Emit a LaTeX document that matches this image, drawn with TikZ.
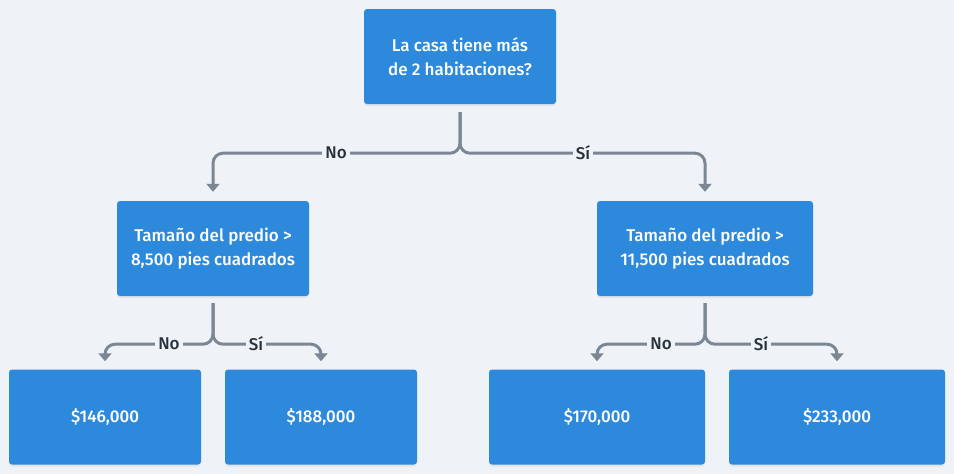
\documentclass[tikz,border=0pt]{standalone}
\usepackage{fontspec}
\setmainfont{Fira Sans}[UprightFont=* Medium, BoldFont=* SemiBold]
\usetikzlibrary{arrows.meta,shadows,calc}
\definecolor{bg}{HTML}{EFF3F7}
\definecolor{boxblue}{HTML}{2D89DB}
\definecolor{linegray}{HTML}{7B8794}
\definecolor{labeltext}{HTML}{27313B}
\begin{document}
\begin{tikzpicture}[x=1pt,y=-1pt,
  box/.style={fill=boxblue, rounded corners=3pt, text=white, align=center,
    font=\fontsize{17}{24.5}\selectfont, minimum height=95pt, inner sep=0pt,
    drop shadow={opacity=0.12, shadow xshift=0pt, shadow yshift=-2pt}},
  narrowbox/.style={box, minimum width=192pt},
  widebox/.style={box, minimum width=216pt},
  conn/.style={draw=linegray, line width=3pt, rounded corners=10pt,
    -{Triangle[width=13pt,length=8pt]}},
  lbl/.style={fill=bg, text=labeltext, font=\fontsize{17}{18}\selectfont, inner sep=3pt}]
\fill[bg] (0,0) rectangle (954,474);
\useasboundingbox (0,0) rectangle (954,474);

\node[narrowbox] (top) at (460,56.5) {La casa tiene más\\de 2 habitaciones?};
\node[narrowbox] (ml) at (213,248.5) {Tamaño del predio >\\8,500 pies cuadrados};
\node[widebox] (mr) at (705,248.5) {Tamaño del predio >\\11,500 pies cuadrados};
\node[narrowbox] (b1) at (105,417) {\$146,000};
\node[narrowbox] (b2) at (321,417) {\$188,000};
\node[widebox] (b3) at (597,417) {\$170,000};
\node[widebox] (b4) at (837,417) {\$233,000};

\coordinate (ts) at ($(top.south)+(0,8)$);
\coordinate (ls) at ($(ml.south)+(0,7)$);
\coordinate (rs) at ($(mr.south)+(0,7)$);

\draw[conn] (ts) -- ($(ts)+(0,41)$) -| ($(ml.north)+(0,-9)$);
\draw[conn] (ts) -- ($(ts)+(0,41)$) -| ($(mr.north)+(0,-9)$);
\draw[conn] (ls) -- ($(ls)+(0,41)$) -| ($(b1.north)+(0,-8)$);
\draw[conn] (ls) -- ($(ls)+(0,41)$) -| ($(b2.north)+(0,-8)$);
\draw[conn] (rs) -- ($(rs)+(0,41)$) -| ($(b3.north)+(0,-8)$);
\draw[conn] (rs) -- ($(rs)+(0,41)$) -| ($(b4.north)+(0,-8)$);

\node[lbl] (l1) at (336,153) {No};
\node[lbl] (l2) at (583,153) {Sí};
\node[lbl] (l3) at (169,344) {No};
\node[lbl] (l4) at (256,344) {Sí};
\node[lbl] (l5) at (661,344) {No};
\node[lbl] (l6) at (761,344) {Sí};
\end{tikzpicture}
\end{document}
